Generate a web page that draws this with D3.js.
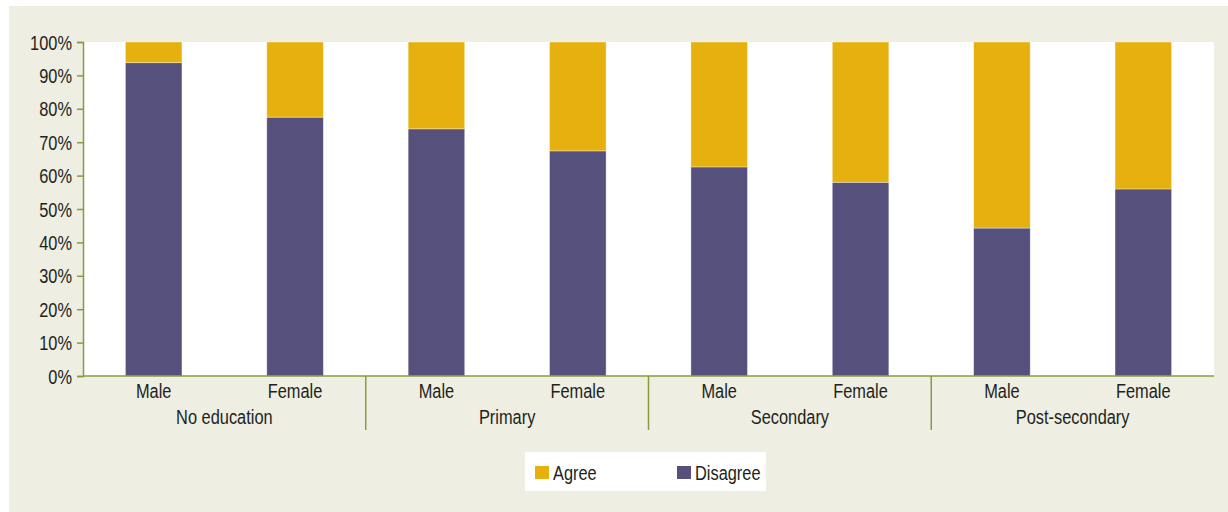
<!DOCTYPE html>
<html>
<head>
<meta charset="utf-8">
<script src="https://cdn.jsdelivr.net/npm/d3@7"></script>
<style>
  html, body { margin: 0; padding: 0; background: #ffffff; }
  svg { display: block; }
  text { font-family: "Liberation Sans", Arial, sans-serif; fill: #231F20; }
</style>
</head>
<body>
<svg id="chart" width="1228" height="512"></svg>
<script>
// ---- Data ----
const groups = ["No education", "Primary", "Secondary", "Post-secondary"];
const genders = ["Male", "Female"];
const disagree = [93.8, 77.5, 74.0, 67.4, 62.6, 58.0, 44.3, 56.0];
const yTicks = [0, 10, 20, 30, 40, 50, 60, 70, 80, 90, 100];
const seriesNames = ["Agree", "Disagree"];
const colors = { Agree: "#E6B10F", Disagree: "#55507C" };

// ---- Build rows ----
const rows = [];
groups.forEach((g, gi) => genders.forEach((s, si) => {
  const v = disagree[gi * 2 + si];
  rows.push({ key: g + "|" + s, group: g, gender: s, Disagree: v, Agree: 100 - v });
}));

const svg = d3.select("#chart");
const W = 1228, H = 512;
const mLeft = 83, mRight = 1214, mTop = 42, mBottom = 376;
const NARROW = 0.78;
const fs = 21;

// background panel
svg.append("rect").attr("x", 9).attr("y", 6).attr("width", W - 9).attr("height", H - 6).attr("fill", "#EEEEE3");
// plot area
svg.append("rect").attr("x", mLeft).attr("y", mTop).attr("width", mRight - mLeft).attr("height", mBottom - mTop).attr("fill", "#ffffff");

const x = d3.scaleBand().domain(rows.map(d => d.key)).range([mLeft, mRight]).paddingInner(0.6).paddingOuter(0.3);
const xg = d3.scaleBand().domain(groups).range([mLeft, mRight]).padding(0);
const y = d3.scaleLinear().domain([0, 100]).range([mBottom, mTop]);

const stack = d3.stack().keys(["Disagree", "Agree"]);
const layers = stack(rows);

svg.append("g").selectAll("g").data(layers).join("g")
  .attr("fill", d => colors[d.key])
  .selectAll("rect").data(d => d).join("rect")
  .attr("x", d => x(d.data.key))
  .attr("width", x.bandwidth())
  .attr("y", d => y(d[1]))
  .attr("height", d => y(d[0]) - y(d[1]))
  .attr("stroke", "rgba(255,255,255,0.45)")
  .attr("stroke-width", 0.8);

const axisColor = "#8A9B3E";

// Y axis
const yAxis = svg.append("g").attr("transform", `translate(${mLeft},0)`)
  .call(d3.axisLeft(y).tickValues(yTicks).tickFormat(d => d + "%").tickSize(6).tickPadding(5));
yAxis.attr("font-family", null).attr("font-size", null);
yAxis.select(".domain").attr("stroke", axisColor).attr("stroke-width", 1.5);
yAxis.selectAll(".tick line").attr("stroke", axisColor).attr("stroke-width", 1.5);
yAxis.selectAll(".tick text")
  .attr("x", 0)
  .attr("dy", "0.34em")
  .attr("transform", `translate(-11,0) scale(${NARROW},1)`)
  .attr("font-size", fs).attr("fill", "#231F20");

// X axis line
svg.append("line").attr("x1", mLeft).attr("x2", mRight).attr("y1", mBottom).attr("y2", mBottom)
  .attr("stroke", axisColor).attr("stroke-width", 1.5);

// group separators
svg.append("g").selectAll("line").data(groups.slice(1)).join("line")
  .attr("x1", d => xg(d)).attr("x2", d => xg(d))
  .attr("y1", mBottom).attr("y2", 430)
  .attr("stroke", axisColor).attr("stroke-width", 1.5);

// gender labels
svg.append("g").selectAll("text").data(rows).join("text")
  .attr("transform", d => `translate(${x(d.key) + x.bandwidth() / 2},398) scale(${NARROW},1)`)
  .attr("text-anchor", "middle")
  .attr("font-size", fs)
  .text(d => d.gender);

// group labels
svg.append("g").selectAll("text").data(groups).join("text")
  .attr("transform", d => `translate(${xg(d) + xg.bandwidth() / 2},424) scale(${NARROW},1)`)
  .attr("text-anchor", "middle")
  .attr("font-size", fs)
  .text(d => d);

// legend
const lg = svg.append("g");
lg.append("rect").attr("x", 525).attr("y", 452).attr("width", 241).attr("height", 39).attr("fill", "#ffffff");
const legX = { Agree: 535, Disagree: 677 };
seriesNames.forEach(n => {
  lg.append("rect").attr("x", legX[n]).attr("y", 466).attr("width", 14).attr("height", 13).attr("fill", colors[n]);
  lg.append("text").attr("transform", `translate(${legX[n] + 18},480) scale(${NARROW},1)`)
    .attr("font-size", fs).text(n);
});
</script>
</body>
</html>
